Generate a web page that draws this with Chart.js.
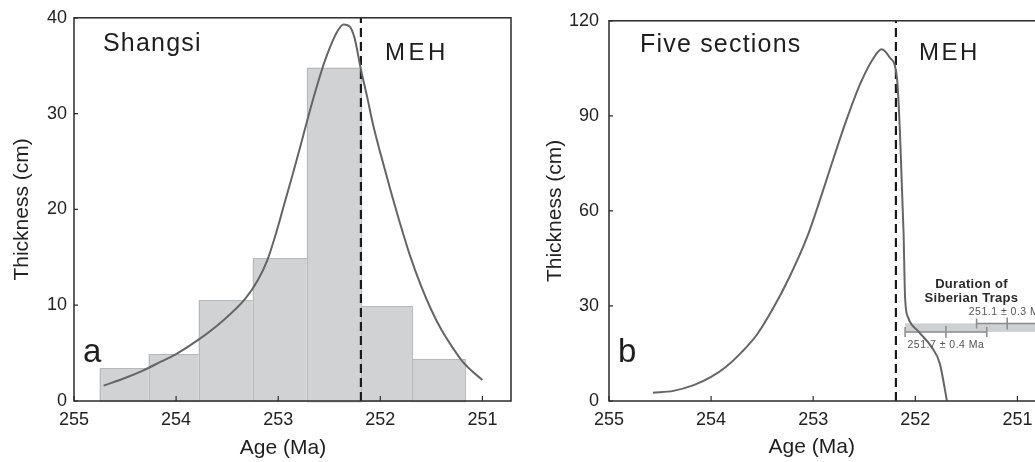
<!DOCTYPE html>
<html>
<head>
<meta charset="utf-8">
<script src="https://cdn.jsdelivr.net/npm/chart.js@4.4.1/dist/chart.umd.min.js"></script>
<style>
  html, body { margin: 0; padding: 0; background: #fff; overflow: hidden; }
  #wrap { position: relative; width: 1035px; height: 462px; overflow: hidden; }
  #chartA { position: absolute; left: 0; top: 0; }
  #chartB { position: absolute; left: 520px; top: 0; }
</style>
</head>
<body>
<div id="wrap">
  <canvas id="chartA" width="520" height="462"></canvas>
  <canvas id="chartB" width="535" height="462"></canvas>
</div>
<script>
// --- data ---
// Shangsi histogram: bin edges (Ma) and thickness per bin (cm)
const shangsiBinEdges = [254.75, 254.27, 253.78, 253.25, 252.72, 252.19, 251.69, 251.17];
const shangsiThickness = [3.4, 4.9, 10.5, 14.9, 34.8, 9.9, 4.4];

// fitted curve, Shangsi
const shangsiCurveAge = [254.71, 254.5, 254.32, 254.15, 254.0, 253.78, 253.55, 253.32, 253.2, 253.11,
  253.03, 252.95, 252.86, 252.78, 252.7, 252.62, 252.55, 252.49, 252.42, 252.36,
  252.3, 252.25, 252.19, 252.13, 252.07, 252.0, 251.9, 251.8, 251.71, 251.6,
  251.5, 251.4, 251.3, 251.2, 251.1, 251.0];
const shangsiCurveThickness = [1.6, 2.4, 3.2, 4.1, 4.9, 6.4, 8.3, 10.7, 12.6, 14.6,
  17.2, 20.2, 23.6, 26.7, 29.9, 32.9, 35.3, 37.0, 38.6, 39.3,
  39.1, 37.8, 34.6, 31.8, 28.8, 25.9, 22.0, 18.3, 15.2, 12.0,
  9.5, 7.4, 5.7, 4.2, 3.1, 2.2];

// fitted curve, five sections
const fiveCurveAge = [254.57, 254.37, 254.17, 254.0, 253.85, 253.72, 253.55, 253.39, 253.23, 253.06,
  252.9, 252.8, 252.67, 252.54, 252.41, 252.33, 252.25, 252.18, 252.15, 252.115,
  252.1, 252.07, 251.97, 251.84, 251.76, 251.69];
const fiveCurveThickness = [2.6, 3.2, 5.0, 7.6, 10.9, 14.8, 21.0, 29.4, 39.3, 51.7,
  66.8, 76.7, 89.1, 100.1, 108.2, 111.0, 108.4, 102.1, 84.5, 53,
  32.5, 26.3, 22, 17, 11.8, 0];

const mehAge = 252.19;
const ageTicks = [255, 254, 253, 252, 251];
const shangsiTicks = [0, 10, 20, 30, 40];
const fiveTicks = [0, 30, 60, 90, 120];

// Siberian Traps dates (Ma) and where they sit on the thickness axis
const trapsAges = [251.7, 251.1];
const trapsErrors = [0.4, 0.3];
const trapsLevels = [21.8, 24.5];
const trapsLabels = ['251.7 \u00b1 0.4 Ma', '251.1 \u00b1 0.3 Ma'];
const trapsBandAge = [252.1, 250.72];

const FONT = '"Liberation Sans", Arial, Helvetica, sans-serif';

function toPoints(xs, ys) {
    return xs.map((x, i) => ({ x: x, y: ys[i] }));
}

// histogram boxes behind the curve
const histogramPlugin = {
    id: 'histogram',
    beforeDatasetsDraw(chart, args, opts) {
        if (!opts.edges) return;
        const { ctx, scales: { x, y } } = chart;
        ctx.save();
        ctx.fillStyle = '#d1d2d4';
        ctx.strokeStyle = '#b7b8ba';
        ctx.lineWidth = 1;
        opts.heights.forEach((h, i) => {
            const x0 = x.getPixelForValue(opts.edges[i]);
            const x1 = x.getPixelForValue(opts.edges[i + 1]);
            const yb = y.getPixelForValue(0);
            const yt = y.getPixelForValue(h);
            ctx.fillRect(x0, yt, x1 - x0, yb - yt);
            ctx.strokeRect(Math.round(x0) + 0.5, Math.round(yt) + 0.5, x1 - x0, yb - yt);
        });
        ctx.restore();
    }
};

// grey band + error bars for the Siberian Traps
const trapsPlugin = {
    id: 'traps',
    beforeDatasetsDraw(chart, args, opts) {
        if (!opts.show) return;
        const { ctx, scales: { x, y } } = chart;
        ctx.save();
        const bx0 = x.getPixelForValue(trapsBandAge[0]);
        const bx1 = x.getPixelForValue(trapsBandAge[1]);
        const by0 = y.getPixelForValue(trapsLevels[1]);
        const by1 = y.getPixelForValue(trapsLevels[0]);
        ctx.fillStyle = '#cfd0d2';
        ctx.fillRect(bx0, by0, bx1 - bx0, by1 - by0);

        ctx.strokeStyle = '#8a8a8a';
        ctx.lineWidth = 1.5;
        trapsAges.forEach((age, i) => {
            const py = y.getPixelForValue(trapsLevels[i]);
            const xl = x.getPixelForValue(age + trapsErrors[i]);
            const xc = x.getPixelForValue(age);
            const xr = x.getPixelForValue(age - trapsErrors[i]);
            ctx.beginPath();
            ctx.moveTo(xl, py); ctx.lineTo(xr, py);
            ctx.moveTo(xl, py - 5); ctx.lineTo(xl, py + 5);
            ctx.moveTo(xc, py - 6); ctx.lineTo(xc, py + 6);
            ctx.moveTo(xr, py - 5); ctx.lineTo(xr, py + 5);
            ctx.stroke();
        });

        ctx.fillStyle = '#555';
        ctx.font = '10.5px ' + FONT;
        ctx.textAlign = 'center';
        ctx.textBaseline = 'alphabetic';
        ctx.letterSpacing = '0.5px';
        ctx.fillText(trapsLabels[0], x.getPixelForValue(trapsAges[0]), y.getPixelForValue(trapsLevels[0]) + 16);
        ctx.fillText(trapsLabels[1], x.getPixelForValue(trapsAges[1]), y.getPixelForValue(trapsLevels[1]) - 8);

        ctx.fillStyle = '#2a2a2a';
        ctx.font = 'bold 13px ' + FONT;
        ctx.letterSpacing = '0.3px';
        const cx = x.getPixelForValue(251.45);
        ctx.fillText('Duration of', cx, y.getPixelForValue(trapsLevels[1]) - 35);
        ctx.fillText('Siberian Traps', cx, y.getPixelForValue(trapsLevels[1]) - 21.5);
        ctx.restore();
    }
};

// box frame, inward ticks, free labels
const framePlugin = {
    id: 'frame',
    afterDraw(chart, args, opts) {
        const { ctx, chartArea: a, scales: { x, y } } = chart;
        ctx.save();
        ctx.strokeStyle = '#2b2b2b';
        ctx.lineWidth = 1.5;
        ctx.strokeRect(a.left, a.top, a.right - a.left, a.bottom - a.top);
        ctx.lineWidth = 1.2;
        ctx.beginPath();
        x.ticks.forEach(t => {
            const px = x.getPixelForValue(t.value);
            ctx.moveTo(px, a.bottom); ctx.lineTo(px, a.bottom - 5);
        });
        y.ticks.forEach(t => {
            const py = y.getPixelForValue(t.value);
            ctx.moveTo(a.left, py); ctx.lineTo(a.left + 4, py);
        });
        ctx.stroke();

        ctx.fillStyle = '#1e1e1e';
        ctx.textBaseline = 'alphabetic';
        (opts.texts || []).forEach(t => {
            ctx.font = t.font;
            ctx.textAlign = t.align || 'left';
            ctx.letterSpacing = t.spacing || '0px';
            ctx.fillText(t.text, t.x, t.y);
        });
        ctx.restore();
    }
};

function makeChart(id, cfg) {
    const ctx = document.getElementById(id).getContext('2d');
    return new Chart(ctx, {
        type: 'line',
        data: {
            datasets: [
                {
                    data: toPoints(cfg.curveAge, cfg.curveValues),
                    pointRadius: 0,
                    borderColor: '#656565',
                    borderWidth: 2,
                    fill: false,
                    cubicInterpolationMode: 'monotone'
                },
                {
                    data: [{ x: mehAge, y: 0 }, { x: mehAge, y: cfg.yMax }],
                    pointRadius: 0,
                    borderColor: '#1a1a1a',
                    borderWidth: 2.2,
                    fill: false,
                    borderDash: [9, 5]
                }
            ]
        },
        options: {
            responsive: false,
            animation: false,
            layout: { padding: { top: 16, right: 9, left: 0, bottom: 0 } },
            scales: {
                x: {
                    type: 'linear',
                    reverse: true,
                    min: 250.72,
                    max: 255,
                    afterBuildTicks: s => { s.ticks = ageTicks.map(v => ({ value: v })); },
                    afterFit: s => { s.height = 61; },
                    grid: { display: false, drawTicks: false },
                    border: { display: false },
                    ticks: {
                        padding: 8,
                        color: '#222',
                        font: { family: FONT, size: 18 },
                        maxRotation: 0
                    }
                },
                y: {
                    type: 'linear',
                    min: 0,
                    max: cfg.yMax,
                    afterBuildTicks: s => { s.ticks = cfg.yTicks.map(v => ({ value: v })); },
                    afterFit: s => { s.width = cfg.yWidth; },
                    grid: { display: false, drawTicks: false },
                    border: { display: false },
                    ticks: {
                        padding: cfg.yPad,
                        color: '#222',
                        font: { family: FONT, size: 18 }
                    },
                    title: {
                        display: true,
                        text: 'Thickness (cm)',
                        color: '#222',
                        font: { family: FONT, size: 21 },
                        padding: { top: cfg.titlePad, bottom: 0 }
                    }
                }
            },
            plugins: {
                legend: { display: false },
                tooltip: { enabled: false },
                histogram: cfg.histogram || {},
                traps: { show: !!cfg.traps },
                frame: { texts: cfg.texts }
            }
        },
        plugins: [histogramPlugin, trapsPlugin, framePlugin]
    });
}

const titleFont = '21px ' + FONT;
const bigFont = '25px ' + FONT;
const mehFont = '24px ' + FONT;
const letterFont = '33px ' + FONT;

makeChart('chartA', {
    curveAge: shangsiCurveAge,
    curveValues: shangsiCurveThickness,
    yMax: 40,
    yTicks: shangsiTicks,
    yWidth: 74,
    yPad: 7,
    titlePad: 10,
    histogram: { edges: shangsiBinEdges, heights: shangsiThickness },
    texts: [
        { text: 'Shangsi', x: 103, y: 50.5, font: bigFont, spacing: '1.2px' },
        { text: 'MEH', x: 385, y: 60, font: mehFont, spacing: '3.5px' },
        { text: 'a', x: 83, y: 362, font: letterFont },
        { text: 'Age (Ma)', x: 283, y: 454, font: titleFont, align: 'center' }
    ]
});

makeChart('chartB', {
    curveAge: fiveCurveAge,
    curveValues: fiveCurveThickness,
    yMax: 120,
    yTicks: fiveTicks,
    yWidth: 89,
    yPad: 10,
    titlePad: 23,
    traps: true,
    texts: [
        { text: 'Five sections', x: 120, y: 52, font: bigFont, spacing: '1.2px' },
        { text: 'MEH', x: 399, y: 60, font: mehFont, spacing: '2.5px' },
        { text: 'b', x: 98, y: 362, font: letterFont },
        { text: 'Age (Ma)', x: 291.7, y: 453, font: titleFont, align: 'center' }
    ]
});
</script>
</body>
</html>
